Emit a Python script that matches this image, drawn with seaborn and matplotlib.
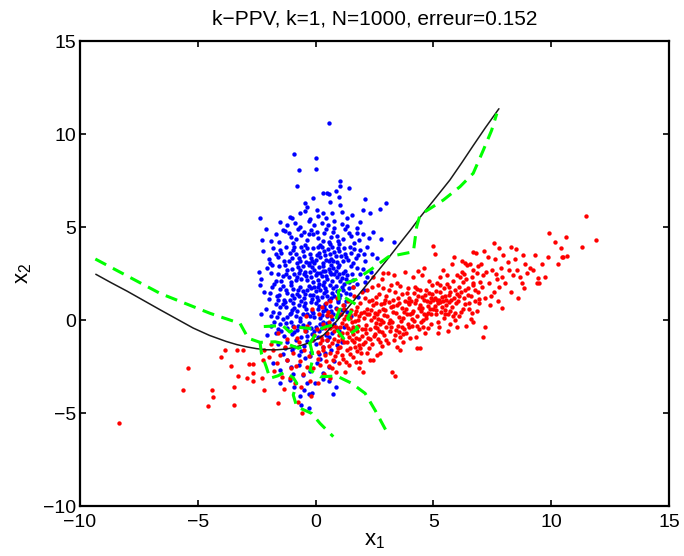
import matplotlib
matplotlib.use("Agg")
import matplotlib.pyplot as plt
import pandas as pd
import seaborn as sns

# ---- class 1 (blue) samples ----
blue_points = [
    (0.58, 10.57), (-0.92, 8.91), (0.02, 8.69), (-0.69, 8.06), (0.0, 8.1), (-0.8, 7.2), (1.04, 7.49),
    (1.42, 7.08), (1.02, 7.18), (0.33, 6.81), (0.47, 6.84), (0.58, 6.79), (1.0, 6.63), (0.61, 6.36),
    (-0.45, 6.27), (-0.38, 6.09), (1.04, 6.18), (2.99, 6.31), (2.1, 6.49), (0.85, 6.95), (-0.1, 6.55),
    (0.05, 5.91), (0.33, 5.74), (1.11, 5.82), (-1.51, 5.29), (-1.09, 5.55), (-1.0, 5.5), (-0.66, 5.77),
    (-0.87, 5.23), (-0.24, 5.41), (-0.3, 5.35), (0.11, 5.59), (1.32, 5.47), (-2.36, 5.47), (0.54, 5.11),
    (-0.66, 5.02), (2.73, 5.97), (2.02, 5.91), (2.31, 5.77), (0.8, 5.3), (1.55, 5.62), (0.25, 5.22),
    (-0.45, 5.85), (1.1, 5.15), (0.42, 5.48), (-1.2, 5.1), (1.9, 5.25), (0.7, 5.75), (-0.05, 5.1), (1.35, 5.05),
    (1.74, 4.93), (-2.26, 4.3), (-1.37, 4.84), (-1.3, 4.78), (0.75, 4.75), (-0.95, 4.12), (-0.38, 4.3),
    (2.28, 4.39), (2.76, 4.37), (3.34, 4.18), (-1.7, 4.62), (-0.6, 4.55), (-0.2, 4.85), (0.1, 4.4),
    (0.37, 4.66), (0.55, 4.21), (0.91, 4.52), (1.17, 4.33), (1.4, 4.7), (1.62, 4.15), (-1.05, 4.45),
    (-0.75, 4.9), (0.2, 4.05), (0.45, 4.92), (1.0, 4.1), (1.25, 4.87), (-0.1, 4.6), (-1.9, 4.25),
    (0.65, 4.45), (2.0, 4.6), (-0.45, 4.03), (0.05, 4.75), (1.85, 4.3), (-1.15, 4.7), (0.3, 4.25),
    (0.8, 4.97), (-0.85, 4.35), (1.5, 4.5), (0.95, 4.27), (-0.3, 4.61),
    (-2.1, 4.9), (2.45, 4.75), (-1.55, 4.2), (1.75, 4.7), (-0.5, 4.75), (0.6, 4.1),
    (-1.58, 3.4), (-1.51, 3.76), (-2.0, 3.3), (-1.8, 3.85), (-1.33, 3.2), (-1.1, 3.62), (-0.9, 3.91),
    (-0.72, 3.35), (-0.55, 3.7), (-0.41, 3.13), (-0.25, 3.56), (-0.1, 3.87), (0.02, 3.25), (0.15, 3.62),
    (0.31, 3.05), (0.4, 3.47), (0.52, 3.8), (0.64, 3.3), (0.8, 3.66), (0.9, 3.1), (1.06, 3.45),
    (1.2, 3.85), (1.36, 3.24), (1.5, 3.6), (1.72, 3.35), (1.9, 3.75), (2.1, 3.15), (2.4, 3.55),
    (-1.25, 3.95), (-0.8, 3.05), (-0.15, 3.2), (0.25, 3.9), (0.7, 3.95), (1.0, 3.72), (1.6, 3.05),
    (-0.6, 3.95), (0.05, 3.5), (0.55, 3.15), (1.15, 3.2), (-0.35, 3.85), (0.85, 3.45), (-1.0, 3.35),
    (0.35, 3.7), (1.45, 3.9), (-0.05, 3.05), (2.2, 3.9), (-1.45, 3.6), (0.6, 3.55), (1.25, 3.55),
    (-0.5, 3.45), (0.1, 3.95), (0.95, 3.85), (-0.2, 3.35), (1.8, 3.5), (-0.95, 3.75), (0.45, 3.25),
    (-0.65, 3.15),
    (-2.25, 3.7), (2.6, 3.35), (-1.95, 3.05), (2.05, 3.55), (-1.7, 3.55), (1.65, 3.8), (-0.85, 3.55),
    (0.2, 3.4), (-0.3, 3.05), (1.3, 3.4), (-1.15, 3.15), (0.75, 3.2),
    (-2.08, 2.78), (-2.3, 2.2), (-1.9, 2.55), (-1.7, 2.1), (-1.55, 2.9), (-1.4, 2.35), (-1.2, 2.7),
    (-1.05, 2.05), (-0.9, 2.5), (-0.75, 2.85), (-0.6, 2.2), (-0.45, 2.6), (-0.3, 2.95), (-0.2, 2.3),
    (-0.05, 2.7), (0.1, 2.15), (0.2, 2.55), (0.3, 2.9), (0.45, 2.35), (0.55, 2.75), (0.7, 2.1),
    (0.8, 2.5), (0.95, 2.85), (1.1, 2.25), (1.25, 2.65), (1.4, 2.05), (1.55, 2.45), (1.75, 2.8),
    (2.02, 2.72), (2.2, 2.3), (-1.3, 2.95), (-0.85, 2.15), (-0.5, 2.45), (-0.15, 2.85), (0.0, 2.4),
    (0.35, 2.05), (0.6, 2.6), (0.9, 2.3), (1.0, 2.95), (1.35, 2.4), (-1.6, 2.45), (-0.7, 2.55),
    (0.15, 2.85), (0.5, 2.2), (0.75, 2.8), (1.15, 2.55), (-0.35, 2.15), (-1.0, 2.75), (0.25, 2.35),
    (-0.55, 2.9), (1.6, 2.15), (0.65, 2.45), (-0.1, 2.05), (1.9, 2.45), (-1.15, 2.3), (0.4, 2.65),
    (-0.25, 2.6), (1.05, 2.1), (-0.8, 2.3), (0.85, 2.65),
    (-2.4, 2.6), (2.35, 2.6), (-1.85, 2.95), (2.1, 2.05), (-1.45, 2.1), (1.5, 2.9), (-0.65, 2.7),
    (0.05, 2.55), (0.65, 2.95), (-0.4, 2.35), (1.3, 2.2), (-1.25, 2.5), (0.3, 2.65), (1.0, 2.45),
    (-2.2, 1.5), (-2.0, 1.15), (-1.85, 1.8), (-1.65, 1.3), (-1.5, 1.65), (-1.35, 1.05), (-1.2, 1.45),
    (-1.05, 1.9), (-0.9, 1.2), (-0.75, 1.6), (-0.6, 1.0), (-0.45, 1.4), (-0.3, 1.85), (-0.15, 1.15),
    (0.0, 1.55), (0.15, 1.95), (0.25, 1.25), (0.4, 1.7), (0.55, 1.05), (0.7, 1.45), (0.85, 1.85),
    (1.0, 1.2), (1.15, 1.6), (1.3, 1.0), (1.45, 1.4), (1.6, 1.8), (1.8, 1.25), (-1.75, 1.95),
    (-1.1, 1.1), (-0.65, 1.75), (-0.25, 1.35), (0.1, 1.05), (0.35, 1.45), (0.6, 1.9), (0.9, 1.55),
    (1.2, 1.95), (-1.4, 1.85), (-0.8, 1.4), (-0.05, 1.8), (0.5, 1.3), (0.75, 1.7), (1.05, 1.35),
    (-1.25, 1.6), (-0.5, 1.2), (0.2, 1.6), (0.95, 1.05), (-0.35, 1.6), (0.65, 1.2), (-0.95, 1.65),
    (0.3, 1.9), (-0.1, 1.35), (1.4, 1.7), (-0.7, 1.3), (0.05, 1.25), (1.1, 1.75), (-1.55, 1.35),
    (-2.35, 1.9), (2.05, 1.6), (-1.95, 1.45), (1.75, 1.95), (-0.55, 1.55), (0.45, 1.55), (-1.0, 1.35),
    (0.8, 1.3), (-0.2, 1.7), (1.3, 1.45), (-1.6, 1.1), (0.1, 1.75),
    (-2.1, 0.6), (-1.9, 0.2), (-1.7, 0.85), (-1.55, 0.4), (-1.4, 0.05), (-1.25, 0.7), (-1.1, 0.3),
    (-0.95, 0.9), (-0.8, 0.5), (-0.65, 0.1), (-0.5, 0.75), (-0.35, 0.35), (-0.2, 0.95), (-0.05, 0.15),
    (0.1, 0.6), (0.25, 0.25), (0.4, 0.85), (0.55, 0.45), (0.7, 0.05), (0.85, 0.65), (1.0, 0.3),
    (1.2, 0.8), (1.35, 0.45), (-1.8, 0.45), (-1.3, 0.95), (-0.85, 0.2), (-0.4, 0.6), (0.0, 0.9),
    (0.3, 0.5), (0.6, 0.75), (0.95, 0.95), (-1.0, 0.55), (-0.55, 0.3), (-0.15, 0.5), (0.2, 0.1),
    (0.5, 0.2), (-1.5, 0.7), (-0.7, 0.8), (0.15, 0.75), (0.75, 0.35), (-0.25, 0.2), (-1.2, 0.15),
    (0.45, 0.55), (-0.9, 0.65), (1.1, 0.55),
    (-2.3, 0.3), (1.5, 0.2), (-1.65, 0.15), (-0.45, 0.9), (0.35, 0.7), (-1.05, 0.4), (0.65, 0.5),
    (-0.1, 0.4), (-1.4, 0.85), (0.9, 0.15),
    (-1.9, -0.3), (-1.7, -0.7), (-1.5, -0.2), (-1.35, -0.85), (-1.2, -0.45), (-1.05, -0.1), (-0.9, -0.65),
    (-0.75, -0.3), (-0.6, -0.9), (-0.45, -0.5), (-0.3, -0.15), (-0.15, -0.75), (0.0, -0.35), (0.15, -0.6),
    (0.3, -0.1), (0.45, -0.8), (0.6, -0.4), (0.8, -0.2), (1.0, -0.6), (-1.6, -0.5), (-1.0, -0.75),
    (-0.55, -0.25), (-0.2, -0.45), (0.1, -0.9), (0.35, -0.3), (-1.25, -0.15), (-0.8, -0.55), (-0.35, -0.85),
    (0.2, -0.2), (0.7, -0.7), (-0.65, -0.05), (-0.05, -0.6), (0.5, -0.15), (1.2, -0.35),
    (-2.05, -0.8), (-1.45, -0.6), (-0.95, -0.3), (-0.4, -0.6), (0.25, -0.45), (0.55, -0.9), (-1.75, -0.1),
    (0.9, -0.45),
    (-1.6, -1.3), (-1.4, -1.8), (-1.2, -1.2), (-1.0, -1.6), (-0.85, -1.1), (-0.7, -1.9), (-0.5, -1.4),
    (-0.35, -1.15), (-0.2, -1.7), (0.0, -1.3), (0.15, -1.85), (0.3, -1.45), (0.5, -1.1), (0.65, -1.6),
    (0.9, -1.35), (-1.3, -1.5), (-0.6, -1.65), (-0.1, -1.05), (0.4, -1.75), (-0.9, -1.45), (1.1, -1.2),
    (-0.25, -1.95),
    (-1.8, -2.3), (-1.5, -2.7), (-1.2, -2.15), (-0.95, -2.9), (-0.7, -2.4), (-0.45, -2.05), (-0.25, -2.75),
    (0.05, -2.3), (0.3, -2.85), (0.55, -2.5), (-1.05, -2.55), (-0.55, -2.95), (0.2, -2.1), (0.8, -2.2),
    (-1.51, -3.4), (-0.66, -4.09), (-0.63, -4.57), (-0.27, -4.75), (-0.27, -4.0), (-0.38, -3.4),
    (0.75, -3.98), (0.87, -3.58), (-0.03, -3.4), (-0.17, -3.94), (-1.1, -3.2), (-0.9, -3.6), (0.3, -3.15),
    (-0.5, -3.75), (0.55, -3.3),
]

# ---- class 2 (red) samples ----
red_points = [
    (-8.33, -5.52), (-5.43, -2.6), (-5.61, -3.76), (-4.38, -3.76), (-4.34, -4.12), (-4.55, -4.62),
    (-4.0, -1.97), (-3.85, -1.61), (-3.6, -2.47), (-3.35, -1.61), (-3.28, -3.01), (-3.46, -3.58),
    (-3.46, -4.57), (-3.07, -1.61), (-2.83, -2.38), (-2.67, -2.37), (-2.92, -3.13), (-2.67, -2.83),
    (-2.67, -3.28), (-2.29, -3.13), (-2.19, -3.76), (-2.18, -1.61), (-2.22, -2.15), (-1.58, -4.44),
    (-1.8, -1.61), (-1.65, -2.33), (-1.44, -3.05), (-1.23, -2.15), (-0.59, -5.02), (-0.87, -3.4),
    (-1.09, -3.13), (-0.8, -0.98), (-0.38, -2.51),
    (-1.9, -1.3), (-1.5, -1.9), (-1.3, -1.45), (-1.05, -2.6), (-0.95, -1.75), (-0.7, -1.2), (-0.65, -2.2),
    (-0.5, -1.6), (-0.45, -0.6), (-0.3, -1.95), (-0.25, -3.3), (-0.15, -1.1), (-0.1, -2.6), (-1.2, -1.0),
    (-0.85, -2.45), (-0.55, -2.9), (-0.35, -0.3), (-0.05, -0.8), (-1.75, -2.75), (-2.0, -2.0),
    (-1.35, -3.7), (-0.75, -4.4), (-0.6, -3.6), (-0.2, -4.1), (-0.9, -0.4), (-0.4, 0.2), (-0.15, 0.6),
    (-1.6, -0.7),
    (0.05, -0.5), (0.1, -1.7), (0.15, 0.3), (0.2, -2.4), (0.25, -1.1), (0.3, -0.2), (0.35, -2.9),
    (0.4, -1.88), (0.45, 0.9), (0.5, -0.7), (0.55, -1.4), (0.61, -1.79), (0.65, 0.2), (0.7, -2.6),
    (0.75, -2.15), (0.8, -1.0), (0.85, -0.35), (0.9, 1.2), (0.95, -1.5), (1.0, -2.3), (0.12, -3.4),
    (0.22, -0.9), (0.33, -1.45), (0.42, -2.2), (0.52, 0.45), (0.58, -0.1), (0.68, -1.25), (0.77, -0.6),
    (0.83, -1.95), (0.92, 0.6), (0.98, -0.8), (0.28, 0.7), (0.48, -1.1), (0.63, -3.1), (0.72, -0.3),
    (0.87, -2.8), (0.18, -1.25), (0.38, -0.45), (0.08, -2.1), (0.57, -2.45), (0.93, -1.15), (0.62, 1.0),
    (0.47, 0.27), (0.3, -1.6), (0.6, -0.45), (0.9, -1.7),
    (1.05, -0.4), (1.1, -1.9), (1.15, 0.8), (1.2, -1.2), (1.25, -2.78), (1.27, -2.24), (1.3, 0.2),
    (1.35, -0.7), (1.4, -2.4), (1.45, -1.5), (1.5, 0.55), (1.55, -0.1), (1.6, -2.0), (1.65, 1.3),
    (1.7, -0.95), (1.75, -1.65), (1.8, 0.0), (1.85, -2.6), (1.88, -2.24), (1.9, 0.9), (1.95, -0.5),
    (2.0, -1.3), (1.08, 0.35), (1.12, -1.0), (1.18, -2.1), (1.28, -0.25), (1.38, 1.0), (1.42, -0.9),
    (1.48, -1.85), (1.52, -0.55), (1.58, 1.75), (1.62, -1.2), (1.68, 0.35), (1.72, -2.25), (1.78, -0.3),
    (1.82, -1.35), (1.92, 0.4), (1.98, -0.85), (1.33, -1.6), (1.47, 0.1), (1.57, -0.75), (1.66, -0.05),
    (1.76, 0.7), (1.86, -1.0), (1.96, 1.5), (1.03, -1.45), (1.22, 0.6), (1.37, -0.45), (1.53, -1.05),
    (1.69, -1.45), (1.84, 0.2), (1.14, -0.15), (1.44, 0.35), (1.74, -0.6), (1.94, -1.75),
    (1.1, -0.7), (1.35, -1.2), (1.6, -0.35), (1.9, -1.5), (1.2, 0.05), (1.7, 0.5),
    (2.02, -2.78), (2.05, 0.1), (2.1, 1.2), (2.15, -0.7), (2.2, 0.6), (2.25, -1.5), (2.3, -2.15),
    (2.35, 0.0), (2.4, 1.8), (2.45, -2.15), (2.5, -0.4), (2.55, 0.9), (2.59, -1.88), (2.6, 0.3),
    (2.65, -1.0), (2.7, 1.4), (2.73, -1.79), (2.75, -0.2), (2.8, 2.2), (2.85, 0.6), (2.9, -0.8),
    (2.95, 1.1), (3.0, -0.4), (2.08, -1.2), (2.12, -0.25), (2.18, 1.6), (2.22, -0.95), (2.28, 0.35),
    (2.32, -0.5), (2.38, -1.3), (2.42, 0.8), (2.48, 0.15), (2.52, -0.75), (2.58, 1.25), (2.62, -0.45),
    (2.68, 0.5), (2.72, -1.2), (2.78, 0.0), (2.82, -0.65), (2.88, 1.7), (2.92, 0.25), (2.98, -1.1),
    (2.16, 0.3), (2.36, 0.55), (2.56, -0.15), (2.76, 0.85), (2.96, 0.55), (2.26, 1.0), (2.46, -0.85),
    (2.66, 0.05), (2.86, -0.1), (2.06, 0.45), (2.44, 2.3), (2.84, 2.51), (2.64, 1.9),
    (2.1, -0.5), (2.3, -1.0), (2.5, 0.4), (2.7, -0.6), (2.9, 0.9), (2.2, -1.75), (2.8, -1.4), (2.4, 1.1),
    (3.05, 0.2), (3.09, -1.25), (3.1, 1.6), (3.15, -0.6), (3.2, 0.7), (3.23, -2.78), (3.25, -0.1),
    (3.3, 1.1), (3.37, -3.01), (3.35, -0.8), (3.4, 0.4), (3.45, 2.0), (3.47, -1.43), (3.5, -0.3),
    (3.55, 0.9), (3.6, -0.9), (3.65, 1.4), (3.7, 0.1), (3.75, -0.5), (3.8, 2.6), (3.85, 0.6),
    (3.9, -0.2), (3.95, 1.2), (4.0, 0.3), (3.09, 2.51), (3.12, 0.95), (3.18, -0.35), (3.28, 0.45),
    (3.32, -1.1), (3.38, 1.5), (3.42, -0.55), (3.52, 0.15), (3.58, 1.85), (3.62, -0.05), (3.68, 0.65),
    (3.72, -1.2), (3.78, 1.0), (3.82, -0.7), (3.88, 0.35), (3.92, 1.7), (3.98, -0.4), (3.22, 1.9),
    (3.44, 0.8), (3.66, -0.35), (3.86, 1.45), (3.14, 0.0), (3.54, -0.65), (3.74, 0.45), (3.96, 0.85),
    (3.34, 2.4), (3.1, -0.15), (3.3, 0.75), (3.5, 1.2), (3.7, -0.75), (3.9, 0.95), (3.6, -1.6),
    (3.0, 1.3),
    (4.05, 1.0), (4.1, -0.3), (4.15, 0.5), (4.2, 1.8), (4.25, -0.9), (4.29, -1.52), (4.3, 0.2),
    (4.35, 1.3), (4.4, -0.5), (4.43, -1.52), (4.45, 0.8), (4.5, 2.4), (4.55, 0.0), (4.6, 1.1),
    (4.65, -0.7), (4.7, 1.6), (4.75, 0.4), (4.8, 2.1), (4.85, 0.95), (4.9, -0.2), (4.95, 1.4),
    (5.0, 0.6), (5.0, 4.0), (5.07, 3.55), (4.08, 0.4), (4.12, 2.3), (4.18, -0.05), (4.22, 0.9),
    (4.32, -0.3), (4.38, 0.65), (4.42, 1.6), (4.48, -0.1), (4.52, 1.25), (4.58, 0.35), (4.62, 2.8),
    (4.68, 0.1), (4.72, 1.0), (4.78, -0.45), (4.82, 1.45), (4.88, 0.3), (4.92, 1.9), (4.98, 1.05),
    (4.26, 1.1), (4.46, 0.5), (4.66, 1.35), (4.86, 0.6), (4.16, 1.45), (4.36, 2.65), (4.56, -0.4),
    (4.76, 0.75), (4.1, 0.05), (4.3, 1.65), (4.5, 0.65), (4.7, 0.25), (4.9, 1.2), (4.0, -0.95),
    (5.05, 1.2), (5.1, 0.3), (5.15, 2.0), (5.2, 0.9), (5.25, -0.4), (5.3, 1.5), (5.35, 0.7),
    (5.42, 2.69), (5.4, 1.0), (5.45, 0.1), (5.5, 1.3), (5.56, 2.42), (5.55, 0.8), (5.6, -0.6),
    (5.65, 1.8), (5.7, 0.5), (5.75, 1.1), (5.8, 3.0), (5.85, 0.2), (5.9, 1.6), (5.95, 0.9),
    (5.99, 2.42), (5.08, 0.75), (5.12, 1.55), (5.18, -0.1), (5.22, 1.1), (5.28, 2.3), (5.32, 0.45),
    (5.38, 1.25), (5.48, 0.55), (5.52, 1.05), (5.58, 1.95), (5.62, 0.3), (5.68, 1.35), (5.72, -0.2),
    (5.78, 0.7), (5.82, 2.1), (5.88, 1.2), (5.92, 0.0), (5.98, 1.4), (5.26, 0.95), (5.46, 1.7),
    (5.66, 0.95), (5.86, 3.4), (5.16, 1.05), (5.1, 0.55), (5.3, 1.9), (5.5, 0.3), (5.7, 1.5),
    (5.9, 0.4), (5.2, -0.7),
    (6.05, 1.0), (6.13, 2.33), (6.1, 0.2), (6.15, 1.5), (6.2, 3.2), (6.27, 2.06), (6.25, 0.6),
    (6.34, 3.05), (6.3, 1.2), (6.41, 2.96), (6.4, -0.3), (6.45, 1.7), (6.5, 0.9), (6.55, 3.01),
    (6.6, 1.3), (6.69, 2.69), (6.69, 3.67), (6.69, -0.09), (6.65, 0.4), (6.7, 1.9), (6.75, 1.0),
    (6.84, 2.51), (6.8, 3.6), (6.85, 0.5), (6.9, 1.5), (6.98, 2.06), (6.95, 0.9), (6.69, 1.97),
    (6.08, 1.75), (6.18, 0.45), (6.22, 2.6), (6.32, 0.85), (6.38, 2.2), (6.48, 1.35), (6.58, 0.05),
    (6.62, 2.3), (6.78, 1.6), (6.88, 2.9), (6.92, 1.15), (6.35, 1.6), (6.1, 1.3), (6.3, 2.5),
    (6.5, 0.6), (6.0, -0.35),
    (7.05, 1.79), (7.0, 3.0), (7.12, -0.93), (7.19, -0.36), (7.1, 2.4), (7.2, 1.2), (7.3, 3.4),
    (7.35, 2.0), (7.4, 0.8), (7.5, 2.7), (7.57, 4.16), (7.55, 1.5), (7.6, 3.3), (7.7, 2.2),
    (7.78, 3.85), (7.75, 1.0), (7.9, 0.63), (7.85, 2.8), (7.95, 3.5), (7.8, 1.8), (7.25, 2.6),
    (7.45, 1.3), (7.65, 2.5), (7.15, 3.7), (7.9, 2.3),
    (8.05, 2.0), (8.15, 3.1), (8.28, 3.94), (8.39, 2.42), (8.3, 1.5), (8.45, 3.3), (8.55, 2.7),
    (8.68, 2.33), (8.6, 1.2), (8.79, 3.48), (8.75, 2.0), (8.9, 3.0), (8.96, 2.51), (8.2, 2.7),
    (8.5, 3.8), (8.85, 1.7),
    (9.1, 2.8), (9.24, 2.69), (9.38, 1.97), (9.45, 2.24), (9.3, 3.5), (9.6, 3.0), (9.75, 2.3),
    (9.88, 3.4), (9.92, 4.7), (9.5, 2.0),
    (10.16, 4.19), (10.42, 3.85), (10.47, 3.4), (10.5, 3.4), (10.63, 4.45), (10.66, 3.44), (11.3, 3.94),
    (11.48, 5.61), (11.9, 4.3), (10.3, 3.0),
]

# ---- theoretical (Bayes) decision boundary ----
bayes_x = [-9.33, -8.7, -8.0, -7.3, -6.6, -5.9, -5.2, -4.5, -3.8, -3.35, -2.9, -2.5, -2.1, -1.65,
           -1.25, -0.95, -0.65, -0.4, -0.2, 0.0, 0.2, 0.35, 0.5, 0.7, 0.9, 1.1, 1.3, 1.5, 1.7,
           2.0, 2.3, 2.7, 3.1, 3.55, 4.0, 4.43, 5.0, 5.7, 6.2, 6.69, 7.2, 7.78]
bayes_y = [2.46, 2.02, 1.55, 1.05, 0.55, 0.06, -0.43, -0.83, -1.15, -1.32, -1.45, -1.54, -1.6, -1.6,
           -1.56, -1.48, -1.38, -1.28, -1.18, -1.07, -0.93, -0.79, -0.6, -0.33, -0.05, 0.25, 0.55,
           0.86, 1.17, 1.63, 2.1, 2.72, 3.35, 4.08, 4.8, 5.52, 6.42, 7.53, 8.45, 9.38, 10.33, 11.36]

# ---- 1-NN decision boundary, one polyline per branch ----
knn_segments = [
    [(-9.35, 3.28), (-6.6, 1.43), (-4.48, 0.36), (-3.85, 0.09), (-3.21, -0.18), (-2.86, -0.98),
     (-2.36, -1.2), (-1.72, -1.17), (-1.09, -1.34), (-0.73, -1.52), (-0.24, -1.25), (0.11, -0.54),
     (0.45, -0.35), (0.75, -0.27), (1.04, 0.63), (0.96, 1.52), (1.32, 2.0), (1.74, 2.19), (2.52, 2.87),
     (3.09, 3.4), (3.79, 3.58), (4.15, 3.67), (4.29, 5.02), (4.43, 5.65), (5.42, 6.45), (6.13, 7.17),
     (6.69, 7.89), (7.12, 9.14), (7.47, 10.2), (7.69, 11.1)],
    [(-2.2, -0.35), (-1.4, -0.3), (-1.1, -0.65), (-0.8, -0.38), (-0.3, -0.45), (0.11, -0.54)],
    [(1.25, 1.2), (1.7, 0.85), (1.35, 0.1), (1.8, -0.45), (1.18, -0.98), (0.75, -0.27)],
    [(-0.24, -1.25), (-0.1, -2.0), (-0.24, -2.69), (0.19, -3.05), (0.9, -3.01), (1.53, -3.4),
     (2.1, -3.94), (2.52, -4.84), (3.09, -6.18)],
    [(-2.36, -1.2), (-2.3, -1.8), (-2.1, -2.5), (-1.94, -3.13), (-1.6, -3.0), (-1.3, -2.8),
     (-0.95, -3.1), (-0.8, -3.4), (-0.95, -4.03), (-0.8, -4.66), (-0.17, -5.02), (0.19, -5.56),
     (0.75, -6.27)],
]

x_ticks = [-10, -5, 0, 5, 10, 15]
y_ticks = [-10, -5, 0, 5, 10, 15]
title_text = "k\u2212PPV, k=1, N=1000, erreur=0.152"

sns.set_theme(style="ticks", rc={
    "axes.edgecolor": "black", "xtick.color": "black", "ytick.color": "black",
    "text.color": "black", "axes.labelcolor": "black",
})
plt.rcParams["font.family"] = ["Liberation Sans", "DejaVu Sans"]

fig = plt.figure(figsize=(6.84, 5.56), dpi=100)
ax = fig.add_axes([0.117, 0.0899, 0.8611, 0.8363])

blue = pd.DataFrame(blue_points, columns=["x1", "x2"])
red = pd.DataFrame(red_points, columns=["x1", "x2"])
sns.scatterplot(data=blue, x="x1", y="x2", color=(0, 0, 1), s=10, linewidth=0, ax=ax, zorder=2)
sns.scatterplot(data=red, x="x1", y="x2", color=(1, 0, 0), s=10, linewidth=0, ax=ax, zorder=2)

sns.lineplot(x=bayes_x, y=bayes_y, sort=False, estimator=None, color="#1a1a1a", lw=1.1, ax=ax, zorder=3)

knn = pd.DataFrame([(i, x, y) for i, seg in enumerate(knn_segments) for x, y in seg],
                   columns=["seg", "x1", "x2"])
sns.lineplot(data=knn, x="x1", y="x2", units="seg", estimator=None, sort=False,
             color=(0, 1, 0), lw=2.2, linestyle=(0, (4, 2.5)), ax=ax, zorder=4)

ax.set_xlim(-10, 15)
ax.set_ylim(-10, 15)
ax.set_xticks(x_ticks)
ax.set_yticks(y_ticks)
ax.tick_params(direction="in", length=4.5, width=1.2, top=True, right=True, labelsize=14)
ax.tick_params(axis="x", pad=6)
ax.tick_params(axis="y", pad=3)
for sp in ax.spines.values():
    sp.set_linewidth(1.6)
    sp.set_color("black")
    sp.set_visible(True)

ax.set_title(title_text, fontsize=15, pad=12)
ax.set_xlabel(r"$\mathregular{x_1}$", fontsize=16, labelpad=-1)
ax.set_ylabel(r"$\mathregular{x_2}$", fontsize=16, labelpad=6)

fig.savefig("out.png", dpi=100, facecolor="white")
